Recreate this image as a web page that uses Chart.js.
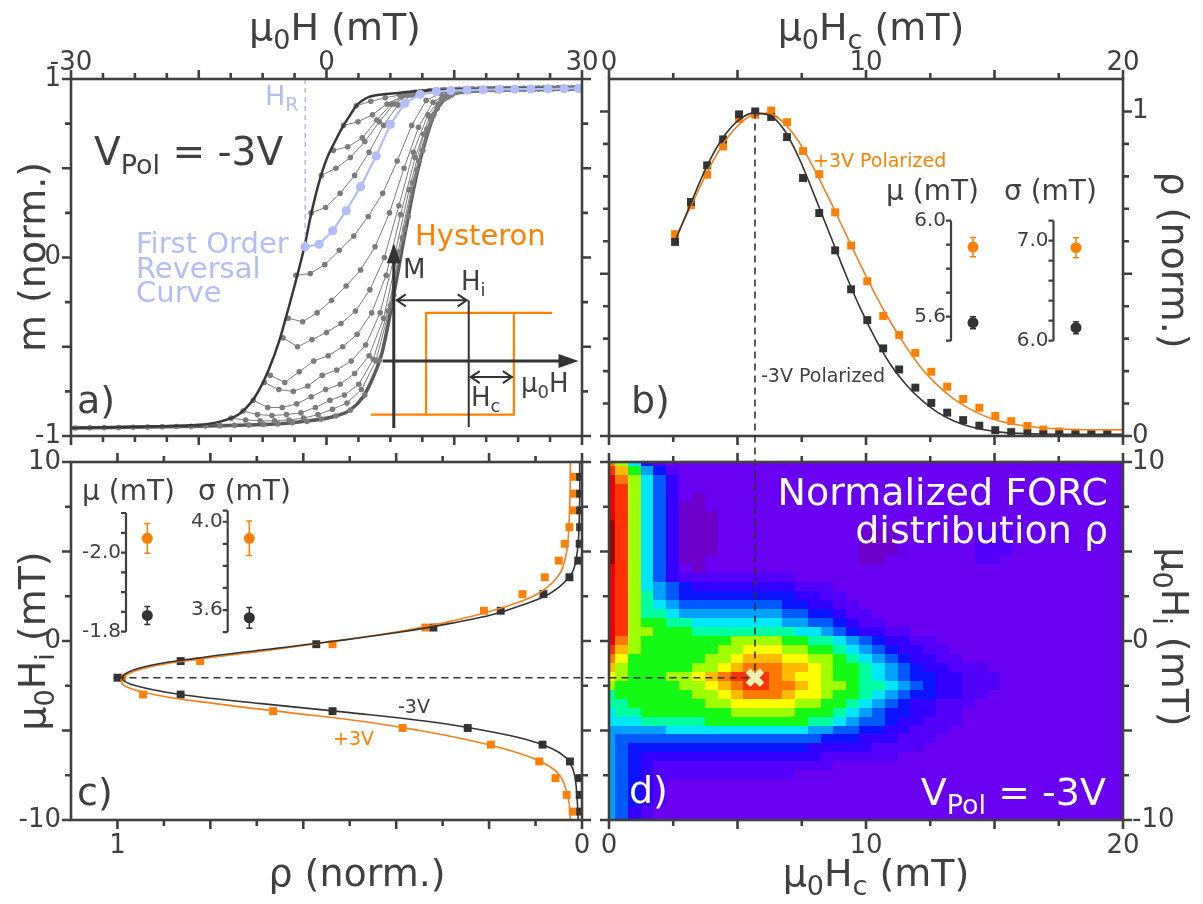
<!DOCTYPE html>
<html lang="en">
<head>
<meta charset="UTF-8">
<title>FORC distribution</title>
<script src="https://cdnjs.cloudflare.com/ajax/libs/Chart.js/4.4.1/chart.umd.min.js"></script>
<style>
    body { margin: 0; background: #ffffff; }
    #figure { position: relative; width: 1203px; height: 904px; }
    #figure canvas { position: absolute; left: 0; top: 0; }
</style>
</head>
<body>
<div id="figure">
    <canvas id="panelA" width="1203" height="904"></canvas>
    <canvas id="panelB" width="1203" height="904"></canvas>
    <canvas id="panelC" width="1203" height="904"></canvas>
    <canvas id="panelD" width="1203" height="904"></canvas>
    <canvas id="insetMuB" width="1203" height="904"></canvas>
    <canvas id="insetSigmaB" width="1203" height="904"></canvas>
    <canvas id="insetMuC" width="1203" height="904"></canvas>
    <canvas id="insetSigmaC" width="1203" height="904"></canvas>
</div>
<script>

// ---------- panel a : major loop and first order reversal curves ----------
const downField = [-30, -20, -15, -13, -11.2, -10.2, -9, -8, -6.8, -5.5, -4.5, -3.7, -3, -2.5, -2, -1, 0, 1, 2, 2.8, 3.5, 4.2, 5, 6, 8, 10, 15, 20, 30];
const downM     = [-0.955, -0.945, -0.937, -0.925, -0.9, -0.875, -0.82, -0.75, -0.63, -0.46, -0.29, -0.15, -0.02, 0.08, 0.2, 0.4, 0.55, 0.65, 0.74, 0.8, 0.85, 0.88, 0.9, 0.91, 0.92, 0.93, 0.94, 0.944, 0.947];

const upField = [-30, -15, -5, -3, 0.8, 2.8, 4.3, 5.5, 6.5, 7.26, 7.85, 8.43, 9.0, 9.6, 10.2, 11.0, 11.76, 12.7, 13.7, 14.9, 16.5, 20, 25, 30];
const upM     = [-0.955, -0.945, -0.93, -0.92, -0.892, -0.854, -0.78, -0.668, -0.537, -0.369, -0.22, -0.07, 0.08, 0.229, 0.378, 0.546, 0.677, 0.808, 0.882, 0.916, 0.932, 0.94, 0.945, 0.948];

const majorDotField = [-29.5, -27.8, -26.1, -24.4, -22.7, -21.0, -19.3, -17.6, -15.9, -14.2, -12.5, -10.8, -9.1, -7.4, -5.7, -4.0, -2.3, -0.6, 1.1, 2.8, 4.5, 6.2, 7.9, 9.6, 11.3, 13.0, 14.7, 16.4, 18.1, 19.8, 21.5, 23.2, 24.9, 26.6, 28.3, 30.0];
const majorDotM     = [-0.955, -0.954, -0.953, -0.952, -0.951, -0.95, -0.948, -0.947, -0.946, -0.944, -0.942, -0.94, -0.938, -0.935, -0.932, -0.925, -0.918, -0.905, -0.888, -0.854, -0.77, -0.575, -0.21, 0.229, 0.6, 0.835, 0.91, 0.932, 0.937, 0.94, 0.942, 0.943, 0.944, 0.945, 0.946, 0.947];

// gray FORCs: reversal field, then m every forcStep mT
const forcStep  = 1.7;
const forcStart = [3.5, 2.0, 0.8, -0.6, -1.8, -3.6, -4.5, -5.1, -6.6, -7.3, -8.6, -9.8, -11.2];
const forcM = [
    [0.85, 0.875, 0.895, 0.91, 0.925, 0.932, 0.937, 0.94, 0.942, 0.944, 0.945, 0.946, 0.947, 0.948, 0.949, 0.95],
    [0.74, 0.76, 0.80, 0.86, 0.90, 0.925, 0.935, 0.94, 0.942, 0.944, 0.945, 0.946, 0.947, 0.948, 0.949, 0.95, 0.95],
    [0.60, 0.62, 0.67, 0.77, 0.86, 0.91, 0.928, 0.936, 0.94, 0.942, 0.944, 0.945, 0.946, 0.947, 0.948, 0.949, 0.95, 0.95],
    [0.46, 0.50, 0.56, 0.65, 0.76, 0.86, 0.91, 0.93, 0.938, 0.941, 0.943, 0.945, 0.946, 0.947, 0.948, 0.949, 0.95, 0.95],
    [0.25, 0.28, 0.36, 0.46, 0.59, 0.74, 0.855, 0.91, 0.93, 0.938, 0.941, 0.943, 0.945, 0.946, 0.947, 0.948, 0.949, 0.95, 0.95],
    [-0.10, -0.09, -0.04, 0.04, 0.12, 0.23, 0.36, 0.54, 0.74, 0.88, 0.92, 0.932, 0.937, 0.941, 0.943, 0.945, 0.946, 0.947, 0.948, 0.949],
    [-0.34, -0.36, -0.31, -0.24, -0.16, -0.07, 0.06, 0.25, 0.50, 0.73, 0.87, 0.92, 0.934, 0.94, 0.942, 0.944, 0.945, 0.946, 0.947, 0.948, 0.949],
    [-0.45, -0.50, -0.46, -0.42, -0.37, -0.30, -0.18, 0.0, 0.29, 0.59, 0.80, 0.90, 0.93, 0.937, 0.941, 0.943, 0.945, 0.946, 0.947, 0.948, 0.949],
    [-0.66, -0.70, -0.64, -0.58, -0.55, -0.50, -0.43, -0.31, -0.10, 0.24, 0.56, 0.79, 0.90, 0.93, 0.937, 0.941, 0.943, 0.945, 0.946, 0.947, 0.948, 0.949],
    [-0.70, -0.74, -0.75, -0.72, -0.66, -0.63, -0.58, -0.49, -0.31, 0.01, 0.38, 0.69, 0.86, 0.92, 0.934, 0.94, 0.943, 0.944, 0.945, 0.946, 0.947, 0.948],
    [-0.80, -0.84, -0.84, -0.82, -0.78, -0.74, -0.71, -0.65, -0.55, -0.34, 0.03, 0.42, 0.72, 0.883, 0.925, 0.935, 0.94, 0.943, 0.944, 0.945, 0.946, 0.947, 0.948],
    [-0.86, -0.88, -0.885, -0.88, -0.87, -0.84, -0.80, -0.77, -0.71, -0.57, -0.30, 0.11, 0.49, 0.77, 0.893, 0.93, 0.938, 0.942, 0.944, 0.945, 0.946, 0.947, 0.948, 0.949],
    [-0.90, -0.91, -0.915, -0.915, -0.91, -0.90, -0.88, -0.85, -0.815, -0.74, -0.58, -0.27, 0.16, 0.54, 0.80, 0.90, 0.93, 0.937, 0.941, 0.943, 0.945, 0.946, 0.947, 0.948, 0.949]
];

// highlighted FORC
const reversalField = -2.5;
const blueField = [-2.5, -0.86, 0.73, 2.31, 4.0, 5.83, 7.5, 9.2, 11.0, 12.9, 14.6, 16.5, 18.4, 20.3, 22.1, 24.0, 26.0, 27.9, 29.6];
const blueM     = [0.06, 0.074, 0.15, 0.262, 0.397, 0.569, 0.746, 0.864, 0.914, 0.93, 0.935, 0.938, 0.94, 0.942, 0.943, 0.944, 0.945, 0.946, 0.947];

// hysteron sketch, in panel a units (mT, m)
const hysteronLoop = { left: 11.7, right: 22.0, top: -0.31, bottom: -0.88, topEnd: 26.5, bottomStart: 5.2 };
const hysteronAxes = { mField: 7.9, mBottom: -0.955, mTop: 0.08, hLevel: -0.58, hStart: 6.6, hEnd: 29.6 };
const hysteronBias = { field: 16.7, top: -0.24, bottom: -0.95, coerciveLevel: -0.67 };

// ---------- panel b : profile along Hc ----------
const hcBins   = [2.57, 3.19, 3.82, 4.44, 5.06, 5.69, 6.31, 6.93, 7.55, 8.18, 8.80, 9.42, 10.05, 10.67, 11.29, 11.92, 12.54, 13.16, 13.78, 14.41, 15.03, 15.65, 16.28, 16.90, 17.52, 18.15, 18.77, 19.39];
const rhoHcNeg = [0.598, 0.721, 0.834, 0.914, 0.991, 1.0, 0.983, 0.921, 0.795, 0.687, 0.572, 0.452, 0.357, 0.270, 0.205, 0.149, 0.102, 0.072, 0.049, 0.032, 0.018, 0.012, 0.008, 0.005, 0.005, 0.005, 0.005, 0.005];
const rhoHcPos = [0.622, 0.711, 0.805, 0.892, 0.977, 0.99, 1.003, 0.967, 0.878, 0.807, 0.689, 0.587, 0.477, 0.370, 0.311, 0.256, 0.198, 0.152, 0.114, 0.087, 0.062, 0.046, 0.031, 0.020, 0.014, 0.010, 0.008, 0.007];
const fitHcField = [2.57, 3.2, 3.8, 4.4, 5.0, 5.6, 6.2, 6.8, 7.4, 8.0, 8.6, 9.2, 9.8, 10.4, 11.0, 11.6, 12.2, 12.8, 13.4, 14.0, 14.6, 15.2, 16, 17, 18, 20];
const fitHcNeg   = [0.60, 0.72, 0.83, 0.915, 0.97, 0.995, 0.99, 0.945, 0.855, 0.74, 0.62, 0.50, 0.39, 0.295, 0.215, 0.155, 0.108, 0.072, 0.047, 0.03, 0.019, 0.012, 0.008, 0.006, 0.005, 0.005];
const fitHcPos   = [0.61, 0.71, 0.81, 0.895, 0.955, 0.99, 0.995, 0.965, 0.905, 0.82, 0.725, 0.625, 0.525, 0.43, 0.345, 0.27, 0.205, 0.155, 0.115, 0.085, 0.062, 0.046, 0.033, 0.024, 0.02, 0.019];

// ---------- panel c : profile along Hi ----------
const hiBins   = [-9.53, -8.6, -7.66, -6.73, -5.79, -4.86, -3.92, -2.99, -2.05, -1.12, -0.18, 0.75, 1.69, 2.62, 3.56, 4.49, 5.43, 6.36, 7.3, 8.23, 9.17];
const rhoHiNeg = [0.004, 0.005, 0.006, 0.026, 0.085, 0.246, 0.537, 0.864, 1.0, 0.864, 0.572, 0.320, 0.175, 0.083, 0.027, 0.008, 0.005, 0.004, 0.004, 0.004, 0.004];
const rhoHiPos = [0.02, 0.033, 0.057, 0.092, 0.196, 0.386, 0.665, 0.945, 0.99, 0.822, 0.537, 0.337, 0.211, 0.128, 0.080, 0.050, 0.037, 0.027, 0.018, 0.017, 0.016];
const fitHiField = [-10, -9, -8, -7.5, -7, -6.5, -6, -5.5, -5, -4.5, -4, -3.5, -3, -2.5, -2.05, -1.5, -1, -0.5, 0, 0.5, 1, 1.5, 2, 2.5, 3, 3.5, 4, 5, 6, 8, 10];
const fitHiNeg   = [0.008, 0.01, 0.013, 0.016, 0.022, 0.035, 0.065, 0.12, 0.21, 0.33, 0.5, 0.69, 0.86, 0.96, 0.99, 0.95, 0.84, 0.69, 0.53, 0.39, 0.28, 0.19, 0.13, 0.08, 0.05, 0.03, 0.018, 0.01, 0.007, 0.005, 0.005];
const fitHiPos   = [0.025, 0.028, 0.038, 0.048, 0.07, 0.11, 0.17, 0.25, 0.35, 0.47, 0.63, 0.79, 0.92, 0.985, 0.99, 0.94, 0.82, 0.67, 0.53, 0.40, 0.30, 0.22, 0.155, 0.105, 0.075, 0.055, 0.043, 0.033, 0.029, 0.026, 0.025];

// fitted centre and width, [+3V, -3V]
const muHc       = [5.89, 5.575];
const muHcErr    = [0.04, 0.025];
const sigmaHc    = [6.93, 6.13];
const sigmaHcErr = [0.1, 0.06];
const muHi       = [-2.036, -1.841];
const muHiErr    = [0.0375, 0.023];
const sigmaHi    = [3.925, 3.565];
const sigmaHiErr = [0.078, 0.047];

// ---------- panel d : FORC map, one character per 0.5 x 0.5 mT cell ----------
const forcMapHc = [0, 0.5, 1, 1.5, 2, 2.5, 3, 3.5, 4, 4.5, 5, 5.5, 6, 6.5, 7, 7.5, 8, 8.5, 9, 9.5, 10, 10.5, 11, 11.5, 12, 12.5, 13, 13.5, 14, 14.5, 15, 15.5, 16, 16.5, 17, 17.5, 18, 18.5, 19, 19.5, 20];
const forcMapHi = [10, 9.5, 9, 8.5, 8, 7.5, 7, 6.5, 6, 5.5, 5, 4.5, 4, 3.5, 3, 2.5, 2, 1.5, 1, 0.5, 0, -0.5, -1, -1.5, -2, -2.5, -3, -3.5, -4, -4.5, -5, -5.5, -6, -6.5, -7, -7.5, -8, -8.5, -9, -9.5, -10];
const forcMapLevels = 'n0123456789ABCDEF';
const forcMapRows = [
    'C9631',
    'DB8531',
    'EC9642',
    'ED96420',
    'ED96420n',
    'ED9642nn',
    'ED9642nnn',
    'FD9642nnn',
    'FD9642nnn00000000000nnn000000111',
    'FD9642nnn00000000000nnn000000111',
    'FD9642nnn00000000000nnn000000111',
    'FD9642nn000000000000nn000000011',
    'ED96420n',
    'ED9642111111111',
    'ED9654322222222111',
    'ED97543333333332211',
    'ED976544444444332211',
    'ED9776555555554433211',
    'ED98877666666655443211',
    'ED9988877777777665432211',
    'EC988888889999887765432211',
    'DB988888899AAA9988765432211',
    'CA88888899ABBBAA998765432211',
    'B98888899ABCCCBBA9887654322111',
    'A988899ABCDDDCBAA98876543322111',
    '98888899ABCDDCCBA99877654322111',
    '788888899ABCCCBAA9887654332211',
    '7788888899AAAAA99887654322111',
    '6778888888999998887654332211',
    '6667777788888888776544322111',
    '555556666666666655443322111',
    '54444444444444444333222111',
    '5433333333333333222221111',
    '54322222222222222111111',
    '543211111111111111',
    '543211111111111',
    '54321',
    '54321',
    '54321',
    '5421',
    '5421'
];
const peakHc = 5.68;
const peakHi = -2.05;

// tick marks and tick labels
const fieldTicksA = [-30, -26.25, -22.5, -18.75, -15, -11.25, -7.5, -3.75, 0, 3.75, 7.5, 11.25, 15, 18.75, 22.5, 26.25, 30];
const fieldMajorA = [-30, -15, 0, 15, 30];
const mTicks = [-1, -0.75, -0.5, -0.25, 0, 0.25, 0.5, 0.75, 1];
const mMajor = [-1, -0.5, 0, 0.5, 1];
const hcTicks = [0, 2.5, 5, 7.5, 10, 12.5, 15, 17.5, 20];
const hcMajor = [0, 5, 10, 15, 20];
const rhoTicks = [0, 0.1, 0.2, 0.3, 0.4, 0.5, 0.6, 0.7, 0.8, 0.9, 1.0];
const rhoMajorB = [0, 0.5, 1.0];
const rhoMajorC = [0, 0.2, 0.4, 0.6, 0.8, 1.0];
const hiTicks = [-10, -7.5, -5, -2.5, 0, 2.5, 5, 7.5, 10];
const hiMajor = [-10, -5, 0, 5, 10];

const FIG_W = 1203, FIG_H = 904;
const FONT = '"DejaVu Sans", Verdana, sans-serif';
const INK = '#404040';
const DARK = '#333333';
const ORANGE = '#ff8000';
const ORANGE_LINE = '#f47f1f';
const LILAC = '#b3bdf9';
const FORC_GRAY = '#7c7c7c';
const MAP_COLORS = ['#6e00cc', '#6a00f2', '#5200fa', '#3300ff', '#0a14ff', '#005aff', '#00a0ff', '#00e6ff', '#00ffa0', '#14fa14',
                    '#a0ff00', '#ffff00', '#ffba00', '#ff7800', '#ff3200', '#ee0000', '#a00000'];

const areaA = { left: 71, top: 79, right: 582, bottom: 436 };
const areaB = { left: 609, top: 79, right: 1123, bottom: 436 };
const areaC = { left: 71, top: 462, right: 582, bottom: 820 };
const areaD = { left: 609, top: 462, right: 1123, bottom: 820 };

function baseOptions(area, xScale, yScale) {
    return {
        responsive: false,
        animation: false,
        events: [],
        layout: { padding: { left: area.left, top: area.top, right: FIG_W - area.right, bottom: FIG_H - area.bottom } },
        plugins: { legend: { display: false }, tooltip: { enabled: false } },
        scales: {
            x: Object.assign({ type: 'linear', display: false }, xScale),
            y: Object.assign({ type: 'linear', display: false }, yScale)
        }
    };
}

function pts(xs, ys) {
    return xs.map((v, i) => ({ x: v, y: ys[i] }));
}

// text with optional subscripts: parts = [[text], [text, true], ...]
function richText(ctx, parts, x, y, size, color, align, angle) {
    ctx.save();
    ctx.translate(x, y);
    if (angle) ctx.rotate(angle);
    ctx.fillStyle = color;
    ctx.textBaseline = 'alphabetic';
    ctx.textAlign = 'left';
    const fonts = parts.map(p => (p[1] ? Math.round(size * 0.7) : size) + 'px ' + FONT);
    const widths = parts.map((p, i) => { ctx.font = fonts[i]; return ctx.measureText(p[0]).width; });
    const total = widths.reduce((s, w) => s + w, 0);
    let cx = align === 'center' ? -total / 2 : (align === 'right' ? -total : 0);
    parts.forEach((p, i) => {
        ctx.font = fonts[i];
        ctx.fillText(p[0], cx, p[1] ? size * 0.24 : 0);
        cx += widths[i];
    });
    ctx.restore();
}

function drawFrame(chart, spec) {
    const { ctx, chartArea: a, scales: { x, y } } = chart;
    ctx.save();
    ctx.strokeStyle = INK;
    ctx.lineWidth = 2.6;
    ctx.strokeRect(a.left, a.top, a.right - a.left, a.bottom - a.top);
    ctx.beginPath();
    spec.xTicks.forEach(v => {
        const p = x.getPixelForValue(v);
        const len = spec.xMajor.includes(v) ? 9 : 6;
        ctx.moveTo(p, a.top); ctx.lineTo(p, a.top - len);
        ctx.moveTo(p, a.bottom); ctx.lineTo(p, a.bottom + len);
    });
    spec.yTicks.forEach(v => {
        const p = y.getPixelForValue(v);
        const len = spec.yMajor.includes(v) ? 9 : 6;
        ctx.moveTo(a.left, p); ctx.lineTo(a.left - len, p);
        ctx.moveTo(a.right, p); ctx.lineTo(a.right + len, p);
    });
    ctx.stroke();
    ctx.fillStyle = INK;
    ctx.font = '26px ' + FONT;
    ctx.textBaseline = 'alphabetic';
    ctx.textAlign = 'center';
    (spec.top || []).forEach(([v, t]) => ctx.fillText(t, x.getPixelForValue(v), a.top - 9));
    (spec.bottom || []).forEach(([v, t]) => ctx.fillText(t, x.getPixelForValue(v), a.bottom + 33));
    ctx.textBaseline = 'middle';
    ctx.textAlign = 'right';
    (spec.left || []).forEach(([v, t]) => ctx.fillText(t, a.left - 10, y.getPixelForValue(v)));
    ctx.textAlign = 'left';
    (spec.right || []).forEach(([v, t]) => ctx.fillText(t, a.right + 9, y.getPixelForValue(v)));
    ctx.restore();
}

function arrowHead(ctx, x0, y0, x1, y1, len, half) {
    const ang = Math.atan2(y1 - y0, x1 - x0);
    ctx.beginPath();
    ctx.moveTo(x1, y1);
    ctx.lineTo(x1 - len * Math.cos(ang) + half * Math.sin(ang), y1 - len * Math.sin(ang) - half * Math.cos(ang));
    ctx.lineTo(x1 - len * Math.cos(ang) - half * Math.sin(ang), y1 - len * Math.sin(ang) + half * Math.cos(ang));
    ctx.closePath();
    ctx.fill();
}

function doubleArrow(ctx, x0, x1, yy) {
    ctx.beginPath();
    ctx.moveTo(x0, yy); ctx.lineTo(x1, yy);
    ctx.moveTo(x0 + 10, yy - 6); ctx.lineTo(x0 + 1, yy); ctx.lineTo(x0 + 10, yy + 6);
    ctx.moveTo(x1 - 10, yy - 6); ctx.lineTo(x1 - 1, yy); ctx.lineTo(x1 - 10, yy + 6);
    ctx.stroke();
}

function drawHysteron(chart) {
    const { ctx, scales: { x, y } } = chart;
    const px = v => x.getPixelForValue(v), py = v => y.getPixelForValue(v);
    const L = hysteronLoop, A = hysteronAxes, B = hysteronBias;
    ctx.save();
    ctx.strokeStyle = ORANGE;
    ctx.lineWidth = 2.2;
    ctx.beginPath();
    ctx.moveTo(px(L.topEnd), py(L.top));
    ctx.lineTo(px(L.left), py(L.top));
    ctx.lineTo(px(L.left), py(L.bottom));
    ctx.moveTo(px(L.bottomStart), py(L.bottom));
    ctx.lineTo(px(L.right), py(L.bottom));
    ctx.lineTo(px(L.right), py(L.top));
    ctx.stroke();

    ctx.strokeStyle = DARK;
    ctx.fillStyle = DARK;
    ctx.lineWidth = 3;
    ctx.beginPath();
    ctx.moveTo(px(A.mField), py(A.mBottom));
    ctx.lineTo(px(A.mField), py(A.mTop) + 14);
    ctx.moveTo(px(A.hStart), py(A.hLevel));
    ctx.lineTo(px(A.hEnd) - 14, py(A.hLevel));
    ctx.stroke();
    arrowHead(ctx, px(A.mField), py(A.mBottom), px(A.mField), py(A.mTop), 20, 7);
    arrowHead(ctx, px(A.hStart), py(A.hLevel), px(A.hEnd), py(A.hLevel), 20, 7);

    ctx.lineWidth = 2;
    ctx.beginPath();
    ctx.moveTo(px(B.field), py(B.top));
    ctx.lineTo(px(B.field), py(B.bottom));
    ctx.stroke();
    doubleArrow(ctx, px(A.mField) + 2, px(B.field) - 1, py(B.top));
    doubleArrow(ctx, px(B.field) + 1, px(L.right) - 1, py(B.coerciveLevel));
    ctx.restore();
}

// ---------------- panel a ----------------
const forcDatasets = forcStart.map((h0, k) => ({
    data: forcM[k].map((m, i) => ({ x: h0 + i * forcStep, y: m })),
    showLine: true,
    borderColor: FORC_GRAY,
    borderWidth: 1,
    pointRadius: 2.8,
    pointBackgroundColor: FORC_GRAY,
    pointBorderWidth: 0,
    order: 3
}));

const chartA = new Chart(document.getElementById('panelA'), {
    type: 'scatter',
    data: {
        datasets: [
            { data: [{ x: reversalField, y: 1 }, { x: reversalField, y: blueM[0] }], showLine: true, borderColor: LILAC,
              borderWidth: 1.5, borderDash: [5, 4], pointRadius: 0, order: 0 },
            { data: pts(blueField, blueM), showLine: true, borderColor: LILAC, borderWidth: 2.2, pointRadius: 4.6,
              pointBackgroundColor: LILAC, pointBorderWidth: 0, order: 1 },
            { data: pts(downField, downM), showLine: true, borderColor: '#383838', borderWidth: 2.5, pointRadius: 0,
              cubicInterpolationMode: 'monotone', order: 2 },
            ...forcDatasets,
            { data: pts(majorDotField, majorDotM), showLine: false, pointRadius: 2.8, pointBackgroundColor: FORC_GRAY,
              pointBorderWidth: 0, order: 4 },
            { data: pts(upField, upM), showLine: true, borderColor: '#5a5a5a', borderWidth: 3.5, pointRadius: 0,
              cubicInterpolationMode: 'monotone', order: 5 }
        ]
    },
    options: baseOptions(areaA, { min: -30, max: 30 }, { min: -1, max: 1 }),
    plugins: [{
        id: 'panelA',
        afterDraw(chart) {
            const ctx = chart.ctx;
            drawHysteron(chart);
            drawFrame(chart, {
                xTicks: fieldTicksA, xMajor: fieldMajorA, yTicks: mTicks, yMajor: mMajor,
                top: [[-30, '-30'], [0, '0'], [30, '30']],
                left: [[1, '1'], [0, '0'], [-1, '-1']]
            });
            richText(ctx, [['μ'], ['0', true], ['H (mT)']], 335, 40, 38, INK, 'center');
            richText(ctx, [['m (norm.)']], 45, 257, 38, INK, 'center', -Math.PI / 2);
            richText(ctx, [['V'], ['Pol', true], [' = -3V']], 94, 165, 39, INK, 'left');
            richText(ctx, [['H'], ['R', true]], 265, 105, 27, LILAC, 'left');
            richText(ctx, [['First Order']], 136, 253, 29, LILAC, 'left');
            richText(ctx, [['Reversal']], 136, 278, 29, LILAC, 'left');
            richText(ctx, [['Curve']], 136, 302, 29, LILAC, 'left');
            richText(ctx, [['Hysteron']], 415, 245, 29, ORANGE, 'left');
            richText(ctx, [['M']], 403, 278, 26, INK, 'left');
            richText(ctx, [['H'], ['i', true]], 461, 290, 26, INK, 'left');
            richText(ctx, [['H'], ['c', true]], 471, 406, 26, INK, 'left');
            richText(ctx, [['μ'], ['0', true], ['H']], 521, 392, 26, INK, 'left');
            richText(ctx, [['a)']], 77, 413, 38, INK, 'left');
        }
    }]
});

// ---------------- panel b ----------------
const chartB = new Chart(document.getElementById('panelB'), {
    type: 'scatter',
    data: {
        datasets: [
            { data: pts(fitHcField, fitHcNeg), showLine: true, borderColor: DARK, borderWidth: 1.6, pointRadius: 0,
              cubicInterpolationMode: 'monotone', order: 0 },
            { data: pts(fitHcField, fitHcPos), showLine: true, borderColor: ORANGE_LINE, borderWidth: 1.6, pointRadius: 0,
              cubicInterpolationMode: 'monotone', order: 1 },
            { data: pts(hcBins, rhoHcNeg), pointStyle: 'rect', pointRadius: 5.6, pointBackgroundColor: DARK,
              backgroundColor: DARK, pointBorderWidth: 0, order: 2 },
            { data: pts(hcBins, rhoHcPos), pointStyle: 'rect', pointRadius: 5.6, pointBackgroundColor: ORANGE,
              backgroundColor: ORANGE, pointBorderWidth: 0, order: 3 }
        ]
    },
    options: baseOptions(areaB, { min: 0, max: 20 }, { min: 0, max: 1.1 }),
    plugins: [{
        id: 'panelB',
        afterDraw(chart) {
            const ctx = chart.ctx;
            drawFrame(chart, {
                xTicks: hcTicks, xMajor: hcMajor, yTicks: rhoTicks, yMajor: rhoMajorB,
                top: [[0, '0'], [10, '10'], [20, '20']],
                right: [[1, '1'], [0, '0']]
            });
            richText(ctx, [['μ'], ['0', true], ['H'], ['c', true], [' (mT)']], 871, 40, 38, INK, 'center');
            richText(ctx, [['ρ (norm.)']], 1162, 260, 38, INK, 'center', Math.PI / 2);
            richText(ctx, [['+3V Polarized']], 813, 167, 19, ORANGE, 'left');
            richText(ctx, [['-3V Polarized']], 761, 382, 19, INK, 'left');
            richText(ctx, [['μ (mT)']], 886, 200, 28, INK, 'left');
            richText(ctx, [['σ (mT)']], 1004, 200, 28, INK, 'left');
            richText(ctx, [['b)']], 631, 413, 38, INK, 'left');
        }
    }]
});

// ---------------- panel c ----------------
const chartC = new Chart(document.getElementById('panelC'), {
    type: 'scatter',
    data: {
        datasets: [
            { data: pts(fitHiNeg, fitHiField), showLine: true, borderColor: DARK, borderWidth: 1.6, pointRadius: 0,
              tension: 0.4, order: 0 },
            { data: pts(fitHiPos, fitHiField), showLine: true, borderColor: ORANGE_LINE, borderWidth: 1.6, pointRadius: 0,
              tension: 0.4, order: 1 },
            { data: pts(rhoHiNeg, hiBins), pointStyle: 'rect', pointRadius: 5.6, pointBackgroundColor: DARK,
              backgroundColor: DARK, pointBorderWidth: 0, order: 2 },
            { data: pts(rhoHiPos, hiBins), pointStyle: 'rect', pointRadius: 5.6, pointBackgroundColor: ORANGE,
              backgroundColor: ORANGE, pointBorderWidth: 0, order: 3 }
        ]
    },
    options: baseOptions(areaC, { min: 0, max: 1.1, reverse: true }, { min: -10, max: 10 }),
    plugins: [{
        id: 'panelC',
        afterDraw(chart) {
            const ctx = chart.ctx;
            drawFrame(chart, {
                xTicks: rhoTicks, xMajor: rhoMajorC, yTicks: hiTicks, yMajor: hiMajor,
                bottom: [[1, '1'], [0, '0']],
                left: [[10, '10'], [0, '0'], [-10, '-10']]
            });
            richText(ctx, [['μ'], ['0', true], ['H'], ['i', true], [' (mT)']], 45, 641, 38, INK, 'center', -Math.PI / 2);
            richText(ctx, [['ρ (norm.)']], 357, 886, 38, INK, 'center');
            richText(ctx, [['μ (mT)']], 82, 500, 28, INK, 'left');
            richText(ctx, [['σ (mT)']], 198, 500, 28, INK, 'left');
            richText(ctx, [['-3V']], 398, 713, 19, INK, 'left');
            richText(ctx, [['+3V']], 333, 745, 19, ORANGE, 'left');
            richText(ctx, [['c)']], 77, 805, 38, INK, 'left');
        }
    }]
});

// ---------------- panel d ----------------
const chartD = new Chart(document.getElementById('panelD'), {
    type: 'scatter',
    data: {
        datasets: [
            { data: [{ x: peakHc, y: peakHi }], pointStyle: 'crossRot', pointRadius: 10, pointBorderWidth: 6.5,
              pointBorderColor: '#f2f0b4', borderColor: '#f2f0b4', order: 0 }
        ]
    },
    options: baseOptions(areaD, { min: 0, max: 20 }, { min: -10, max: 10 }),
    plugins: [{
        id: 'panelD',
        beforeDatasetsDraw(chart) {
            const { ctx, chartArea: a, scales: { x, y } } = chart;
            ctx.save();
            ctx.beginPath();
            ctx.rect(a.left, a.top, a.right - a.left, a.bottom - a.top);
            ctx.clip();
            forcMapRows.forEach((row, r) => {
                const cells = row.padEnd(forcMapHc.length, '0');
                const y0 = Math.floor(y.getPixelForValue(forcMapHi[r] + 0.25));
                const y1 = Math.ceil(y.getPixelForValue(forcMapHi[r] - 0.25));
                for (let c = 0; c < forcMapHc.length; c++) {
                    const x0 = Math.floor(x.getPixelForValue(forcMapHc[c] - 0.25));
                    const x1 = Math.ceil(x.getPixelForValue(forcMapHc[c] + 0.25));
                    ctx.fillStyle = MAP_COLORS[forcMapLevels.indexOf(cells[c])];
                    ctx.fillRect(x0, y0, x1 - x0, y1 - y0);
                }
            });
            ctx.restore();

            // dashed guides from the profile maxima to the peak
            const bx = chartB.scales.x, by = chartB.scales.y;
            const cx = chartC.scales.x, cy = chartC.scales.y;
            ctx.save();
            ctx.strokeStyle = DARK;
            ctx.lineWidth = 1.6;
            ctx.setLineDash([7, 5]);
            ctx.beginPath();
            ctx.moveTo(bx.getPixelForValue(peakHc), by.getPixelForValue(1));
            ctx.lineTo(x.getPixelForValue(peakHc), y.getPixelForValue(peakHi));
            ctx.moveTo(cx.getPixelForValue(1), cy.getPixelForValue(peakHi));
            ctx.lineTo(x.getPixelForValue(peakHc), y.getPixelForValue(peakHi));
            ctx.stroke();
            ctx.restore();
        },
        afterDraw(chart) {
            const ctx = chart.ctx;
            drawFrame(chart, {
                xTicks: hcTicks, xMajor: hcMajor, yTicks: hiTicks, yMajor: hiMajor,
                bottom: [[0, '0'], [10, '10'], [20, '20']],
                right: [[10, '10'], [0, '0'], [-10, '-10']]
            });
            richText(ctx, [['μ'], ['0', true], ['H'], ['c', true], [' (mT)']], 876, 886, 38, INK, 'center');
            richText(ctx, [['μ'], ['0', true], ['H'], ['i', true], [' (mT)']], 1162, 637, 38, INK, 'center', Math.PI / 2);
            richText(ctx, [['Normalized FORC']], 1108, 505, 38, '#ffffff', 'right');
            richText(ctx, [['distribution ρ']], 1108, 543, 38, '#ffffff', 'right');
            richText(ctx, [['V'], ['Pol', true], [' = -3V']], 1106, 805, 38, '#ffffff', 'right');
            richText(ctx, [['d)']], 629, 803, 38, '#ffffff', 'left');
        }
    }]
});

// ---------------- insets with the fitted parameters ----------------
function makeInset(id, area, yScale, ticks, labels, values, errors) {
    return new Chart(document.getElementById(id), {
        type: 'scatter',
        data: {
            datasets: [
                { data: [{ x: 0.5, y: values[1] }], pointRadius: 5.5, pointBackgroundColor: DARK, pointBorderWidth: 0, order: 0 },
                { data: [{ x: 0.5, y: values[0] }], pointRadius: 5.5, pointBackgroundColor: ORANGE, pointBorderWidth: 0, order: 1 }
            ]
        },
        options: baseOptions(area, { min: 0, max: 1 }, yScale),
        plugins: [{
            id: 'inset',
            beforeDatasetsDraw(chart) {
                const { ctx, scales: { x, y } } = chart;
                ctx.save();
                ctx.lineWidth = 1.5;
                [ORANGE, DARK].forEach((col, i) => {
                    const px = x.getPixelForValue(0.5);
                    const top = y.getPixelForValue(values[i] + errors[i]);
                    const bot = y.getPixelForValue(values[i] - errors[i]);
                    ctx.strokeStyle = col;
                    ctx.beginPath();
                    ctx.moveTo(px, top); ctx.lineTo(px, bot);
                    ctx.moveTo(px - 3, top); ctx.lineTo(px + 3, top);
                    ctx.moveTo(px - 3, bot); ctx.lineTo(px + 3, bot);
                    ctx.stroke();
                });
                ctx.restore();
            },
            afterDraw(chart) {
                const { ctx, chartArea: a, scales: { y } } = chart;
                ctx.save();
                ctx.strokeStyle = INK;
                ctx.lineWidth = 2.2;
                ctx.beginPath();
                ctx.moveTo(a.left, a.top); ctx.lineTo(a.left, a.bottom);
                ticks.forEach(v => {
                    const p = y.getPixelForValue(v);
                    ctx.moveTo(a.left, p); ctx.lineTo(a.left - 5, p);
                });
                ctx.moveTo(a.left, a.top); ctx.lineTo(a.left - 5, a.top);
                ctx.moveTo(a.left, a.bottom); ctx.lineTo(a.left - 5, a.bottom);
                ctx.stroke();
                ctx.fillStyle = INK;
                ctx.font = '20px ' + FONT;
                ctx.textAlign = 'right';
                ctx.textBaseline = 'middle';
                labels.forEach(([v, t]) => ctx.fillText(t, a.left - 5, y.getPixelForValue(v)));
                ctx.restore();
            }
        }]
    });
}

makeInset('insetMuB', { left: 951, top: 220.7, right: 995, bottom: 340.7 }, { min: 5.5, max: 6.0 },
    [5.6, 5.7, 5.8, 5.9, 6.0], [[6.0, '6.0'], [5.6, '5.6']], muHc, muHcErr);
makeInset('insetSigmaB', { left: 1053.5, top: 220.7, right: 1098.5, bottom: 340.7 }, { min: 6.0, max: 7.2 },
    [6.0, 6.2, 6.4, 6.6, 6.8, 7.0], [[7.0, '7.0'], [6.0, '6.0']], sigmaHc, sigmaHcErr);
makeInset('insetMuC', { left: 126, top: 513, right: 168.6, bottom: 631.7 }, { min: -2.1, max: -1.8, reverse: true },
    [-2.05, -2.0, -1.95, -1.9, -1.85, -1.8], [[-2.0, '-2.0'], [-1.8, '-1.8']], muHi, muHiErr);
makeInset('insetSigmaC', { left: 227.7, top: 510.7, right: 270.9, bottom: 632.1 }, { min: 3.5, max: 4.05 },
    [3.6, 3.7, 3.8, 3.9, 4.0], [[4.0, '4.0'], [3.6, '3.6']], sigmaHi, sigmaHiErr);

</script>
</body>
</html>
